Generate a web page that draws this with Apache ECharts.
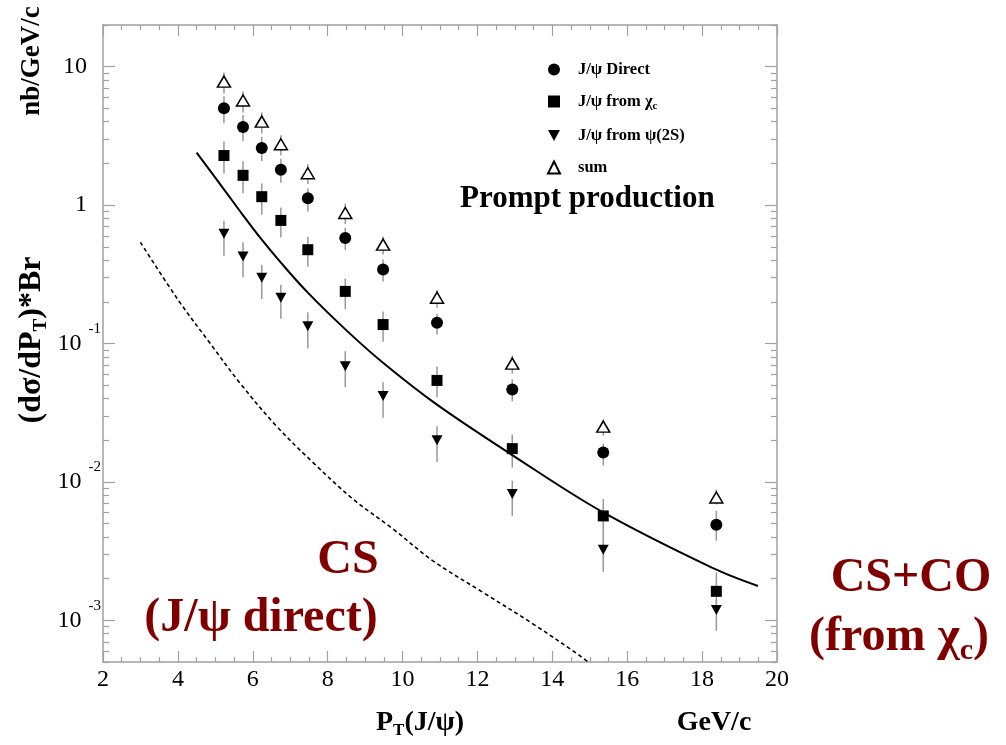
<!DOCTYPE html>
<html>
<head>
<meta charset="utf-8">
<script src="https://cdn.jsdelivr.net/npm/echarts@6/dist/echarts.min.js"></script>
<style>
  html, body { margin: 0; padding: 0; background: #fff; }
  #chart { width: 1006px; height: 745px; }
</style>
</head>
<body>
<div id="chart"></div>
<script>
// Prompt J/psi production cross section vs transverse momentum
const ptBins = [5.23, 5.74, 6.24, 6.75, 7.47, 8.47, 9.48, 10.92, 12.93, 15.36, 18.38];

const direct   = [5.01, 3.66, 2.58, 1.80, 1.12, 0.578, 0.342, 0.141, 0.0466, 0.0163, 0.0049];
const directLo = [3.90, 2.90, 2.08, 1.45, 0.90, 0.474, 0.280, 0.116, 0.0382, 0.0131, 0.00376];
const directHi = [6.11, 4.47, 3.10, 2.16, 1.32, 0.683, 0.404, 0.164, 0.055, 0.0189, 0.00618];

const fromChic   = [2.28, 1.64, 1.15, 0.775, 0.476, 0.238, 0.137, 0.0541, 0.0174, 0.00568, 0.00162];
const fromChicLo = [1.69, 1.22, 0.853, 0.584, 0.359, 0.177, 0.103, 0.0408, 0.0127, 0.00407, 0.00133];
const fromChicHi = [2.88, 2.07, 1.43, 0.962, 0.591, 0.295, 0.170, 0.0683, 0.0220, 0.00753, 0.00222];

const fromPsi2S   = [0.621, 0.426, 0.298, 0.214, 0.133, 0.0686, 0.0417, 0.0200, 0.00818, 0.00323, 0.00119];
const fromPsi2SLo = [0.431, 0.301, 0.210, 0.151, 0.0923, 0.0484, 0.0289, 0.0139, 0.00568, 0.00224, 0.00084];
const fromPsi2SHi = [0.771, 0.538, 0.370, 0.266, 0.168, 0.0880, 0.0526, 0.0252, 0.0102, 0.00408, 0.00141];

const sumAll = [7.80, 5.69, 4.01, 2.75, 1.70, 0.877, 0.518, 0.214, 0.0715, 0.0251, 0.00771];
const sumLo  = [6.39, 4.66, 3.29, 2.29, 1.42, 0.731, 0.439, 0.181, 0.0605, 0.0216, 0.00687];
const sumHi  = [9.06, 6.61, 4.66, 3.19, 1.97, 1.02, 0.592, 0.244, 0.0817, 0.0282, 0.0088];

// Theory curves: colour-singlet + colour-octet (from chi_c), colour-singlet (direct)
const csCoPt  = [4.50, 5.22, 5.73, 6.24, 6.75, 7.47, 8.48, 9.47, 10.91, 12.94, 15.35, 18.29, 19.49];
const csCoVal = [2.39, 1.31, 0.851, 0.562, 0.384, 0.233, 0.126, 0.0729, 0.0363, 0.01556, 0.00604, 0.00238, 0.00177];
const csPt    = [3.00, 4.00, 4.85, 5.65, 6.63, 7.61, 8.68, 9.75, 10.81, 12.15, 13.49, 14.73, 15.27];
const csVal   = [0.538, 0.2076, 0.1012, 0.0521, 0.02535, 0.0138, 0.0075, 0.00456, 0.00269, 0.00159, 0.00094, 0.000556, 0.00043];

// Axis ticks
const xTickStep = 2;
const yDecades = [0.001, 0.01, 0.1, 1, 10];
const yMinorTicks = [];
[0.0001, 0.001, 0.01, 0.1, 1, 10].forEach(d => {
  for (let k = 2; k <= 9; k++) yMinorTicks.push(+(d * k).toPrecision(3));
});

const SERIF = "'Liberation Serif', 'DejaVu Serif', serif";
const FRAME = '#a0a0a0';
const DARK_RED = '#800000';

const seriesNames = ['J/ψ Direct', 'J/ψ from χc', 'J/ψ from ψ(2S)', 'sum'];
const legendText = {
  'J/ψ Direct': 'J/ψ Direct',
  'J/ψ from χc': 'J/ψ from χ{sub|c}',
  'J/ψ from ψ(2S)': 'J/ψ from ψ(2S)',
  'sum': 'sum'
};

function pairs(xs, ys) { return xs.map((x, i) => [x, ys[i]]); }
function bars(xs, lo, hi) { return xs.map((x, i) => [x, lo[i], hi[i]]); }

const errorData = [].concat(
  bars(ptBins, directLo, directHi),
  bars(ptBins, fromChicLo, fromChicHi),
  bars(ptBins, fromPsi2SLo, fromPsi2SHi),
  bars(ptBins, sumLo, sumHi)
);

function yLabel(v) {
  const e = Math.round(Math.log10(v));
  if (Math.abs(v / Math.pow(10, e) - 1) > 1e-6) return '';
  if (e === 1) return '{n|10}{gap|}';
  if (e === 0) return '{n|1}{gap|}';
  return '{n|10}{e|' + e + '}';
}

const yLabelRich = {
  n: { fontFamily: SERIF, fontSize: 24, color: '#000', lineHeight: 44 },
  gap: { width: 14, lineHeight: 44 },
  e: { fontFamily: SERIF, fontSize: 15, color: '#000', lineHeight: 15, verticalAlign: 'top', padding: [0, 0, 0, 7] }
};

function xAxisDef(pos, showLabel) {
  return {
    type: 'value', position: pos, min: 2, max: 20, interval: xTickStep,
    axisLine: { show: true, lineStyle: { color: FRAME, width: 1.5 } },
    axisTick: { show: true, inside: true, length: 11, lineStyle: { color: FRAME, width: 1.2 } },
    minorTick: { show: true, splitNumber: 4, length: 5, lineStyle: { color: FRAME, width: 1.2 } },
    axisLabel: { show: showLabel, margin: 6, fontFamily: SERIF, fontSize: 24, color: '#000' },
    splitLine: { show: false }
  };
}

function yAxisDef(pos, major, showLabel) {
  return {
    type: 'log', logBase: 10, position: pos, min: 0.0005, max: 20,
    axisLine: { show: major, lineStyle: { color: FRAME, width: 1.5 } },
    axisTick: {
      show: true, inside: true, length: major ? 12 : 6,
      customValues: major ? yDecades : yMinorTicks,
      lineStyle: { color: FRAME, width: 1.2 }
    },
    axisLabel: showLabel ? {
      show: true, margin: 2, customValues: yDecades, formatter: yLabel, rich: yLabelRich
    } : { show: false },
    splitLine: { show: false }
  };
}

const chart = echarts.init(document.getElementById('chart'), null, { renderer: 'canvas' });

chart.setOption({
  animation: false,
  backgroundColor: '#fff',
  grid: { left: 103, top: 25, width: 674, height: 637, containLabel: false },
  xAxis: [xAxisDef('bottom', true), xAxisDef('top', false)],
  yAxis: [
    yAxisDef('left', true, true),
    yAxisDef('left', false, false),
    yAxisDef('right', true, false),
    yAxisDef('right', false, false)
  ],
  legend: {
    data: seriesNames,
    orient: 'vertical',
    left: 542, top: 56,
    itemWidth: 12, itemHeight: 12, itemGap: 15,
    selectedMode: false,
    formatter: name => legendText[name],
    textStyle: {
      fontFamily: SERIF, fontSize: 16.5, fontWeight: 'bold', color: '#000',
      padding: [0, 0, 0, 13],
      rich: { sub: { fontFamily: SERIF, fontSize: 11, fontWeight: 'bold', color: '#000', padding: [10, 0, 0, 0] } }
    }
  },
  series: [
    {
      type: 'custom', name: 'errors', z: 1,
      xAxisIndex: 0, yAxisIndex: 0,
      data: errorData,
      encode: { x: 0, y: [1, 2] },
      renderItem: (params, api) => {
        const x = api.value(0);
        const p1 = api.coord([x, api.value(1)]);
        const p2 = api.coord([x, api.value(2)]);
        return {
          type: 'line',
          shape: { x1: p1[0], y1: p1[1], x2: p2[0], y2: p2[1] },
          style: { stroke: '#999999', lineWidth: 1.5 }
        };
      }
    },
    {
      type: 'line', name: 'CS+CO', z: 2, data: pairs(csCoPt, csCoVal),
      showSymbol: false, smooth: 0.35, clip: true,
      lineStyle: { color: '#000', width: 2 }
    },
    {
      type: 'line', name: 'CS', z: 2, data: pairs(csPt, csVal),
      showSymbol: false, smooth: 0.35, clip: true,
      lineStyle: { color: '#000', width: 1.6, type: [4, 3] }
    },
    {
      type: 'scatter', name: seriesNames[0], z: 3, data: pairs(ptBins, direct),
      symbol: 'circle', symbolSize: 12,
      itemStyle: { color: '#000', opacity: 1 }
    },
    {
      type: 'scatter', name: seriesNames[1], z: 3, data: pairs(ptBins, fromChic),
      symbol: 'rect', symbolSize: 11,
      itemStyle: { color: '#000', opacity: 1 }
    },
    {
      type: 'scatter', name: seriesNames[2], z: 3, data: pairs(ptBins, fromPsi2S),
      symbol: 'path://M0,0L10,0L5,9Z', symbolSize: [11, 10],
      itemStyle: { color: '#000', opacity: 1 }
    },
    {
      type: 'scatter', name: seriesNames[3], z: 3, data: pairs(ptBins, sumAll),
      symbol: 'triangle', symbolSize: [13, 11],
      itemStyle: { color: '#fff', borderColor: '#000', borderWidth: 1.5, opacity: 1 }
    }
  ],
  graphic: [
    {
      type: 'text', left: 460, top: 183, silent: true,
      style: { text: 'Prompt production', font: 'bold 31px ' + SERIF, fill: '#000' }
    },
    {
      type: 'text', x: 420, y: 723, silent: true,
      style: {
        text: 'P{sub|T}(J/ψ)', fill: '#000', align: 'center', verticalAlign: 'middle',
        font: 'bold 28px ' + SERIF,
        rich: { sub: { font: 'bold 17px ' + SERIF, padding: [16, 0, 0, 0] } }
      }
    },
    {
      type: 'text', x: 714, y: 723, silent: true,
      style: { text: 'GeV/c', fill: '#000', align: 'center', verticalAlign: 'middle', font: 'bold 28px ' + SERIF }
    },
    {
      type: 'text', x: 32, y: 340, rotation: Math.PI / 2, silent: true,
      style: {
        text: '(dσ/dP{sub|T})*Br', fill: '#000', align: 'center', verticalAlign: 'middle',
        font: 'bold 32px ' + SERIF,
        rich: { sub: { font: 'bold 19px ' + SERIF, padding: [18, 0, 0, 0] } }
      }
    },
    {
      type: 'text', x: 32, y: 61, rotation: Math.PI / 2, silent: true,
      style: { text: 'nb/GeV/c', fill: '#000', align: 'center', verticalAlign: 'middle', font: 'bold 27px ' + SERIF }
    },
    {
      type: 'text', x: 348, y: 561, silent: true,
      style: { text: 'CS', fill: DARK_RED, align: 'center', verticalAlign: 'middle', font: 'bold 48px ' + SERIF }
    },
    {
      type: 'text', x: 261, y: 619, silent: true,
      style: { text: '(J/ψ direct)', fill: DARK_RED, align: 'center', verticalAlign: 'middle', font: 'bold 48px ' + SERIF }
    },
    {
      type: 'text', x: 911, y: 579, silent: true,
      style: { text: 'CS+CO', fill: DARK_RED, align: 'center', verticalAlign: 'middle', font: 'bold 48px ' + SERIF }
    },
    {
      type: 'text', x: 899, y: 638, silent: true,
      style: {
        text: '(from χ{sub|c})', fill: DARK_RED, align: 'center', verticalAlign: 'middle',
        font: 'bold 48px ' + SERIF,
        rich: { sub: { font: 'bold 30px ' + SERIF, fill: DARK_RED, padding: [26, 0, 0, 0] } }
      }
    }
  ]
});
</script>
</body>
</html>
